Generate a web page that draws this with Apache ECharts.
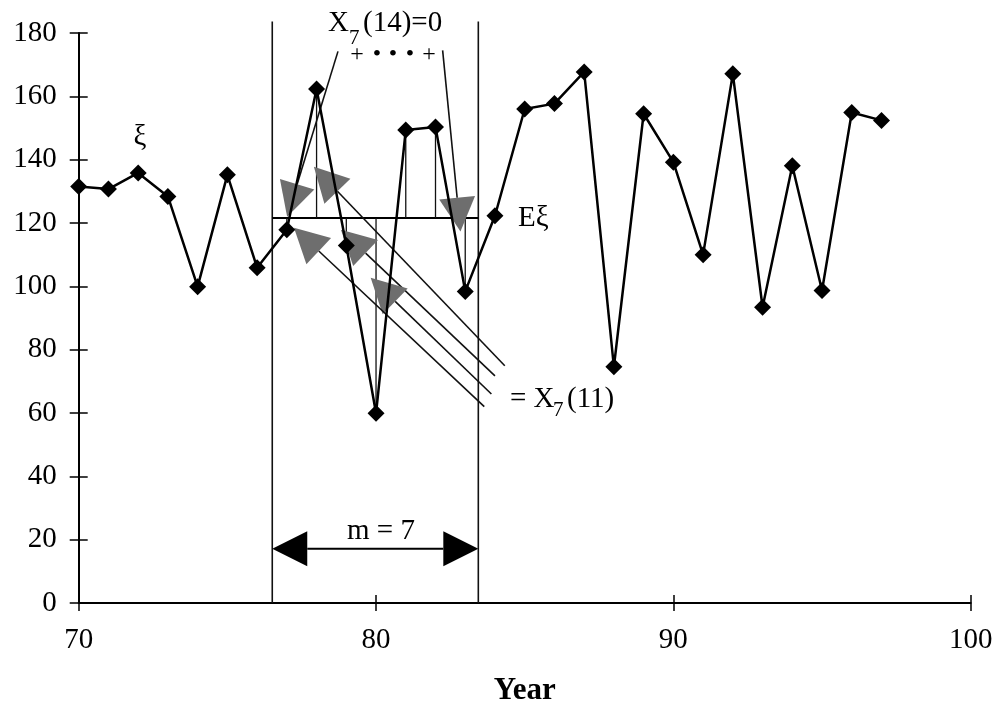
<!DOCTYPE html>
<html><head><meta charset="utf-8">
<script src="https://cdn.jsdelivr.net/npm/echarts@6/dist/echarts.min.js"></script>
<style>html,body{margin:0;padding:0;background:#fff}#c{width:1000px;height:704px}</style>
</head><body><div id="c"></div>
<script>
// ---- data ----
const years = [70,71,72,73,74,75,76,77,78,79,80,81,82,83,84,85,86,87,88,89,90,91,92,93,94,95,96,97];
const values = [131.5,130.7,135.8,128.4,99.9,135.2,105.9,117.9,162.3,112.9,59.9,149.4,150.3,98.4,122.3,156.0,157.7,167.7,74.6,154.5,139.2,110.0,167.1,93.4,138.1,98.7,154.9,152.4];
const xRange = [70, 100];
const yRange = [0, 180];
const meanLevel = 121.6;                 // E xi
const windowBounds = [76.51, 83.44];     // window of m = 7 years
const windowTop = 183.6;
const deviationYears = [77,78,79,80,81,82,83];
// arrows: [fromYear, fromValue, toYear, toValue]
const arrowsTop = [[78.72,174.2,77.01,122.0],[82.24,174.5,82.84,117.3]];
const arrowsRight = [[84.33,74.9,77.91,137.8],[84.0,71.7,78.82,117.9],[83.88,66.0,79.82,102.7],[83.64,62.0,77.24,118.5]];
const spanLevel = 17.1;

const FONT = "'Liberation Serif','Times New Roman',serif";
const chart = echarts.init(document.getElementById('c'));

function arrowHead(tip, from, len, half) {
  const dx = tip[0]-from[0], dy = tip[1]-from[1];
  const L = Math.sqrt(dx*dx+dy*dy);
  const ux = dx/L, uy = dy/L;
  const bx = tip[0]-ux*len, by = tip[1]-uy*len;
  return {base:[bx,by], points:[tip,[bx-uy*half, by+ux*half],[bx+uy*half, by-ux*half]]};
}

const deviationData = deviationYears.map(y => [y, values[years.indexOf(y)]]);

function txt(text, x, y, size, opts) {
  opts = opts || {};
  return {type:'text', z:100, style:{text:text, x:x, y:y,
    font:(opts.bold?'bold ':'')+size+'px '+FONT, fill:'#000',
    align:opts.align||'left', textAlign:opts.align||'left',
    verticalAlign:'middle', textVerticalAlign:'middle'}};
}

const axisCommon = {min:xRange[0], max:xRange[1], interval:10};
const option = {
  animation:false,
  backgroundColor:'#fff',
  grid:{left:78.7, right:29.3, top:33, bottom:101, containLabel:false, outerBoundsMode:'none'},
  xAxis:[
    Object.assign({type:'value', position:'bottom',
      axisLine:{show:true, onZero:false, lineStyle:{color:'#000', width:2}},
      axisTick:{show:true, inside:false, length:8, lineStyle:{color:'#000', width:1.5}},
      axisLabel:{color:'#000', fontSize:29, fontFamily:FONT, margin:23},
      splitLine:{show:false},
      name:'Year', nameLocation:'middle', nameGap:72,
      nameTextStyle:{color:'#000', fontSize:31, fontWeight:'bold', fontFamily:FONT}}, axisCommon),
    Object.assign({type:'value', position:'bottom',
      axisLine:{show:false, onZero:false},
      axisTick:{show:true, inside:true, length:8, lineStyle:{color:'#000', width:1.5}},
      axisLabel:{show:false}, splitLine:{show:false}}, axisCommon)
  ],
  yAxis:[
    {type:'value', min:yRange[0], max:yRange[1], interval:20, position:'left',
      axisLine:{show:true, onZero:false, lineStyle:{color:'#000', width:2}},
      axisTick:{show:true, inside:false, length:9, lineStyle:{color:'#000', width:1.5}},
      axisLabel:{color:'#000', fontSize:29, fontFamily:FONT, margin:22},
      splitLine:{show:false}},
    {type:'value', min:yRange[0], max:yRange[1], interval:20, position:'left',
      axisLine:{show:false, onZero:false},
      axisTick:{show:true, inside:true, length:9, lineStyle:{color:'#000', width:1.5}},
      axisLabel:{show:false}, splitLine:{show:false}}
  ],
  series:[
    {type:'custom', name:'window', clip:false, z:1, silent:true,
      data: windowBounds.map(x => [x]),
      renderItem:function(p, api){
        const a = api.coord([api.value(0), windowTop]);
        const b = api.coord([api.value(0), yRange[0]]);
        return {type:'line', shape:{x1:a[0],y1:a[1],x2:b[0],y2:b[1]}, style:{stroke:'#111', lineWidth:1.6}};
      }},
    {type:'custom', name:'mean', clip:false, z:1, silent:true,
      data:[[windowBounds[0], windowBounds[1], meanLevel]],
      renderItem:function(p, api){
        const a = api.coord([api.value(0), api.value(2)]);
        const b = api.coord([api.value(1), api.value(2)]);
        return {type:'line', shape:{x1:a[0],y1:a[1],x2:b[0],y2:b[1]}, style:{stroke:'#000', lineWidth:2}};
      }},
    {type:'custom', name:'deviation', clip:false, z:1, silent:true,
      data: deviationData,
      renderItem:function(p, api){
        const a = api.coord([api.value(0), meanLevel]);
        const b = api.coord([api.value(0), api.value(1)]);
        return {type:'line', shape:{x1:a[0],y1:a[1],x2:b[0],y2:b[1]}, style:{stroke:'#111', lineWidth:1.3}};
      }},
    {type:'custom', name:'arrows', clip:false, z:2, silent:true,
      data: arrowsTop.concat(arrowsRight),
      renderItem:function(p, api){
        const from = api.coord([api.value(0), api.value(1)]);
        const tip = api.coord([api.value(2), api.value(3)]);
        const h = arrowHead(tip, from, 34, 18);
        return {type:'group', children:[
          {type:'line', shape:{x1:from[0],y1:from[1],x2:h.base[0],y2:h.base[1]}, style:{stroke:'#111', lineWidth:1.6}},
          {type:'polygon', shape:{points:h.points}, style:{fill:'#6e6e6e'}}
        ]};
      }},
    {type:'custom', name:'span', clip:false, z:2, silent:true,
      data:[[windowBounds[0], windowBounds[1], spanLevel]],
      renderItem:function(p, api){
        const a = api.coord([api.value(0), api.value(2)]);
        const b = api.coord([api.value(1), api.value(2)]);
        const h1 = arrowHead(a, b, 35, 17.5);
        const h2 = arrowHead(b, a, 35, 17.5);
        return {type:'group', children:[
          {type:'line', shape:{x1:h1.base[0],y1:h1.base[1],x2:h2.base[0],y2:h2.base[1]}, style:{stroke:'#000', lineWidth:2}},
          {type:'polygon', shape:{points:h1.points}, style:{fill:'#000'}},
          {type:'polygon', shape:{points:h2.points}, style:{fill:'#000'}}
        ]};
      }},
    {type:'line', name:'xi', z:5,
      data: years.map((y,i) => [y, values[i]]),
      symbol:'diamond', symbolSize:17, showSymbol:true,
      itemStyle:{color:'#000'}, lineStyle:{color:'#000', width:2.5}}
  ],
  graphic:[
    txt('\u03be', 140, 137, 29, {align:'center'}),
    txt('E\u03be', 518, 218, 29),
    txt('X', 328, 23, 29),
    txt('7', 349, 38.5, 21),
    txt('(14)=0', 363, 23, 29),
    txt('+', 357, 55, 24, {align:'center'}),
    txt('\u2022', 377, 55, 24, {align:'center'}),
    txt('\u2022', 393, 55, 24, {align:'center'}),
    txt('\u2022', 410, 55, 24, {align:'center'}),
    txt('+', 429, 55, 24, {align:'center'}),
    txt('= X', 510, 399, 29),
    txt('7', 553, 410.5, 21),
    txt('(11)', 567, 399, 29),
    txt('m = 7', 381, 531, 29, {align:'center'})
  ]
};
chart.setOption(option);
</script></body></html>
